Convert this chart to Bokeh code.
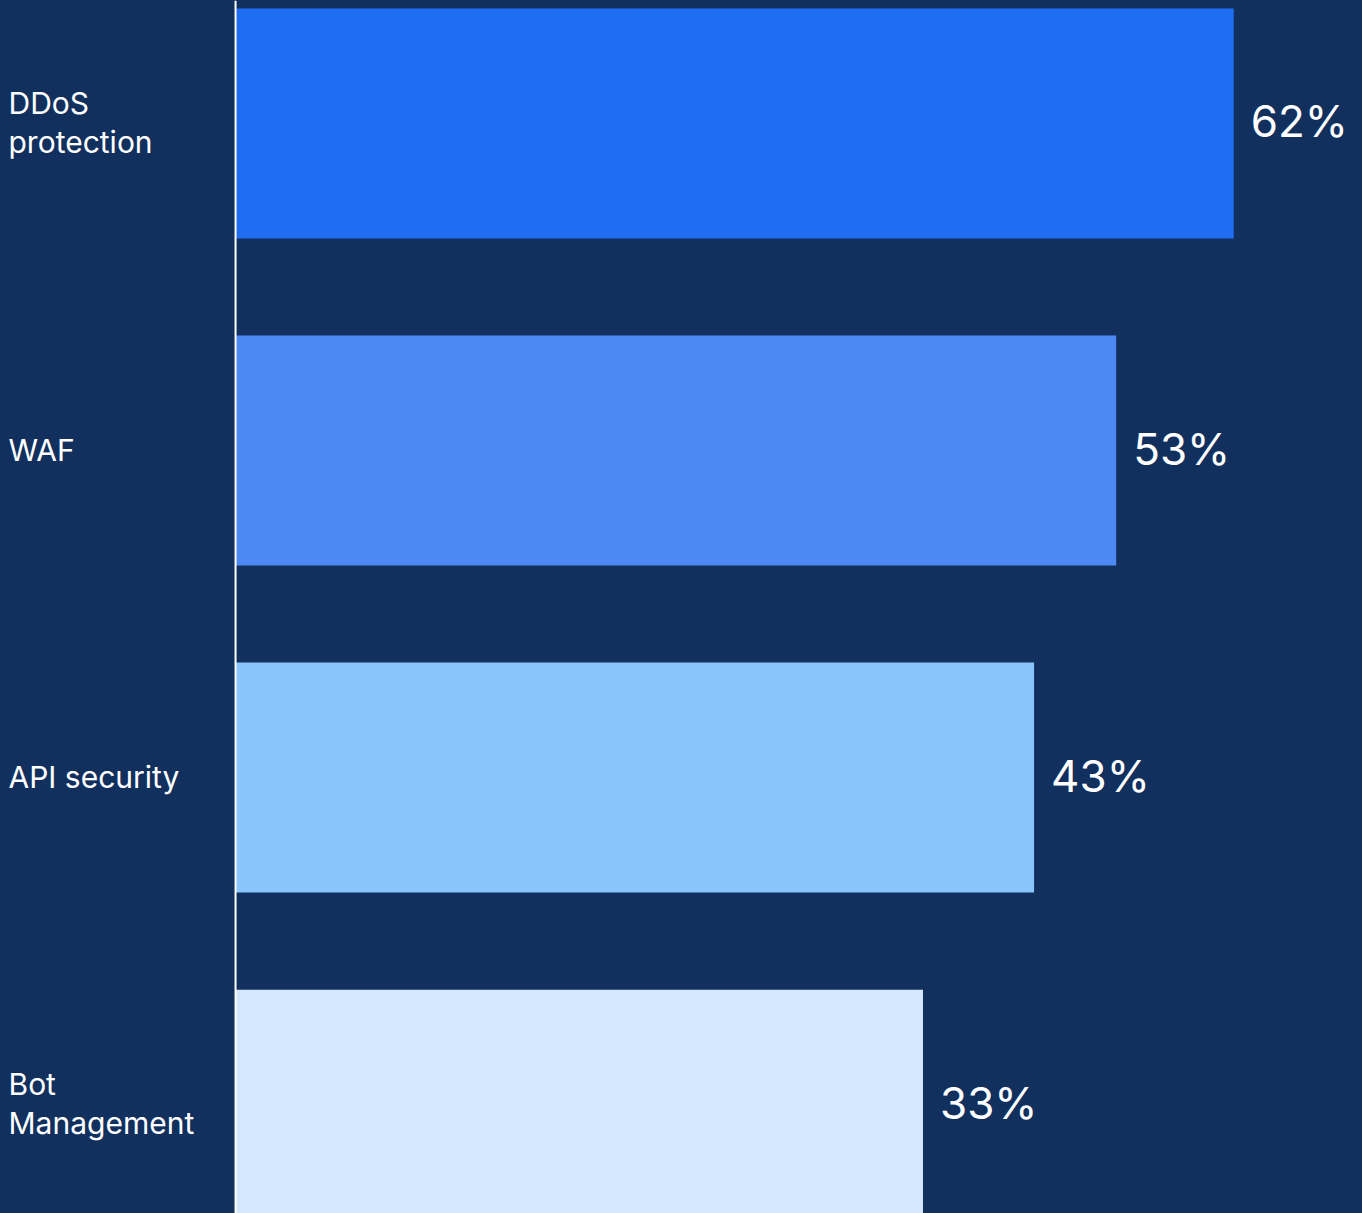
from bokeh.plotting import figure
from bokeh.models import Range1d, ColumnDataSource, Span
from bokeh.core.properties import value
from bokeh.embed import file_html
from bokeh.resources import INLINE

categories = ["DDoS\nprotection", "WAF", "API security", "Bot\nManagement"]
value_labels = ["62%", "53%", "43%", "33%"]
# bar lengths as drawn in the picture (percent-scale units)
bar_lengths = [62.0, 54.7, 49.6, 42.7]
colors = ["#1F6DF1", "#4C89F4", "#89C4FD", "#D3E7FF"]

BG = "#12305E"
W, H = 1362, 1213

ypos = [-i for i in range(len(categories))]

src = ColumnDataSource(dict(y=ypos, right=bar_lengths, color=colors,
                            cat=categories, lab=value_labels))

p = figure(width=W, height=H, output_backend="svg", toolbar_location=None,
           x_range=Range1d(-14.6, 70.0), y_range=Range1d(-3.333, 0.376),
           min_border=0, min_border_left=0, min_border_right=0,
           min_border_top=0, min_border_bottom=0)
p.background_fill_color = BG
p.border_fill_color = BG
p.outline_line_color = None
p.axis.visible = False
p.grid.visible = False
p.styles = {"background-color": BG}

p.hbar(y="y", left=0, right="right", height=0.703, fill_color="color",
       line_color=None, source=src)

p.add_layout(Span(location=0, dimension="height", line_color="white", line_width=2))

p.text(x=-14.6, y="y", text="cat", source=src, x_offset=8, y_offset=-1,
       text_font=value("Inter"), text_font_size="30px", text_color="white",
       text_align="left", text_baseline="middle", text_line_height=1.08)

p.text(x="right", y="y", text="lab", source=src, x_offset=17, y_offset=-2,
       text_font=value("Inter"), text_font_size="44px", text_color="white",
       text_align="left", text_baseline="middle")

html = file_html(p, INLINE)
html = html.replace("<head>", "<head><style>html,body{margin:0;padding:0;background:%s;}</style>" % BG, 1)
open("out.html", "w").write(html)
